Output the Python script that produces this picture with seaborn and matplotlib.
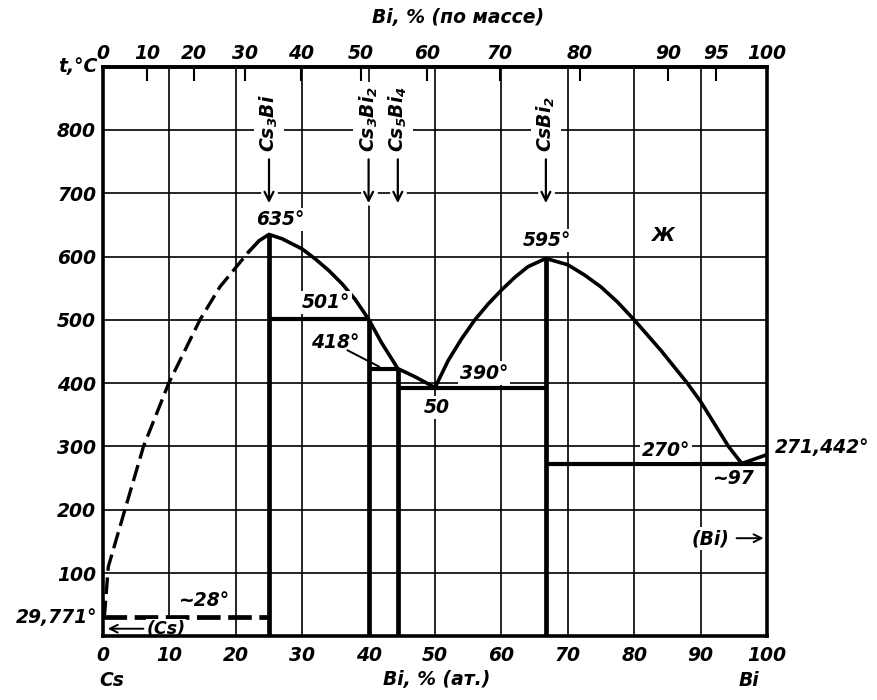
import matplotlib
matplotlib.use("Agg")
import matplotlib.pyplot as plt
import seaborn as sns
import numpy as np

# ---------------- data ----------------
M_BI, M_CS = 208.98, 132.905

y_ticks = [100, 200, 300, 400, 500, 600, 700, 800]
x_ticks_at = [0, 10, 20, 30, 40, 50, 60, 70, 80, 90, 100]
x_ticks_wt = [0, 10, 20, 30, 40, 50, 60, 70, 80, 90, 95, 100]

# liquidus, Cs side (dashed, uncertain)
liq_dash_x = [0.2, 0.8, 3.3, 6.1, 9.9, 14.6, 17.6, 21.9]
liq_dash_t = [30, 110, 200, 300, 400, 500, 552, 607]
# liquidus around Cs3Bi down to the 390 eutectic
liq_a_x = [21.9, 23.5, 25, 27, 30, 32, 34, 36, 38, 40, 42, 44.4, 47, 50]
liq_a_t = [607, 625, 635, 628, 612, 596, 578, 557, 532, 501, 463, 423, 410, 393]
# liquidus around CsBi2
liq_b_x = [50, 52, 54, 56, 58, 60, 62, 64, 66.7, 70, 72.5, 75, 77.5, 80, 84, 88, 90, 94.2, 96.2]
liq_b_t = [393, 436, 470, 500, 525, 547, 567, 584, 597, 587, 571, 552, 528, 500, 452, 400, 371, 300, 273]
# liquidus of Bi
liq_bi_x = [96.2, 100]
liq_bi_t = [273, 287]

# compounds (vertical lines)
comp_x = [25, 40, 44.4, 66.7]
comp_t = [635, 501, 423, 597]
comp_names = ["Cs$_3$Bi", "Cs$_3$Bi$_2$", "Cs$_5$Bi$_4$", "CsBi$_2$"]

# isotherms
iso_x0 = [25, 40, 44.4, 66.7]
iso_x1 = [40, 44.4, 66.7, 100]
iso_t = [501, 423, 393, 273]
cs_iso_x = [0, 25]
cs_iso_t = [30, 30]

# ---------------- figure ----------------
sns.set_theme(style="white")
plt.rcParams["font.family"] = ["DejaVu Sans"]
plt.rcParams["font.style"] = "italic"
plt.rcParams["font.weight"] = "bold"
plt.rcParams["text.color"] = "black"
plt.rcParams["axes.labelcolor"] = "black"
plt.rcParams["xtick.color"] = "black"
plt.rcParams["ytick.color"] = "black"
plt.rcParams["mathtext.fontset"] = "dejavusans"
plt.rcParams["mathtext.default"] = "bf"

FS = 13.5
FW = "bold"
K = "black"
fig = plt.figure(figsize=(8.77, 7.0), dpi=100)
ax = fig.add_axes([103 / 877, (700 - 636.3) / 700, 664 / 877, (636.3 - 66.7) / 700])
ax.set_xlim(0, 100)
ax.set_ylim(0, 900)

# grid drawn explicitly
for xv in x_ticks_at:
    ax.axvline(xv, color=K, lw=1.2, zorder=1)
for yv in y_ticks:
    ax.axhline(yv, color=K, lw=1.2, zorder=1)

ax.set_xticks(x_ticks_at)
ax.set_xticklabels([str(v) for v in x_ticks_at], fontsize=FS, style="italic", weight=FW)
ax.set_yticks(y_ticks)
ax.set_yticklabels([str(v) for v in y_ticks], fontsize=FS, style="italic", weight=FW)
ax.tick_params(axis="both", length=0, colors=K, labelcolor=K)
ax.tick_params(axis="x", pad=7)
ax.tick_params(axis="y", pad=5)
for s in ax.spines.values():
    s.set_color(K)
    s.set_linewidth(2.6)
    s.set_zorder(5)


def at2wt(x):
    x = np.asarray(x, dtype=float)
    return 100 * x * M_BI / (x * M_BI + (100 - x) * M_CS)


def wt2at(w):
    w = np.asarray(w, dtype=float)
    a = w / M_BI
    b = (100 - w) / M_CS
    return 100 * a / (a + b)


sec = ax.secondary_xaxis("top", functions=(at2wt, wt2at))
sec.set_xticks(x_ticks_wt)
sec.set_xticklabels([str(v) for v in x_ticks_wt], fontsize=FS, style="italic", weight=FW)
sec.tick_params(axis="x", direction="in", length=10, width=1.5, pad=3, colors=K,
                labelcolor=K)
sec.spines["top"].set_linewidth(2.6)
sec.spines["top"].set_color(K)

# ---------------- curves ----------------
sns.lineplot(x=liq_dash_x, y=liq_dash_t, ax=ax, color=K, lw=2.4, sort=False,
             estimator=None, linestyle=(0, (5, 2)), zorder=3)
sns.lineplot(x=liq_a_x, y=liq_a_t, ax=ax, color=K, lw=2.6, sort=False, estimator=None, zorder=3)
sns.lineplot(x=liq_b_x, y=liq_b_t, ax=ax, color=K, lw=2.6, sort=False, estimator=None, zorder=3)
sns.lineplot(x=liq_bi_x, y=liq_bi_t, ax=ax, color=K, lw=2.6, sort=False, estimator=None, zorder=3)
sns.lineplot(x=cs_iso_x, y=cs_iso_t, ax=ax, color=K, lw=3.4, sort=False, estimator=None,
             linestyle=(0, (5, 1.6)), zorder=3)

for x0, x1, t in zip(iso_x0, iso_x1, iso_t):
    ax.plot([x0, x1], [t, t], color=K, lw=3.0, solid_capstyle="butt", zorder=3)
for x, t in zip(comp_x, comp_t):
    ax.plot([x, x], [0, t], color=K, lw=3.4, solid_capstyle="butt", zorder=3)

# compound labels with arrows
for x, name in zip(comp_x, comp_names):
    ax.plot([x, x], [682, 760], color="white", lw=12, zorder=1.5, solid_capstyle="butt")
    ax.annotate("", xy=(x, 680), xytext=(x, 758),
                arrowprops=dict(arrowstyle="->", lw=1.6, color=K, mutation_scale=16),
                zorder=4)
    ax.text(x, 765, name, rotation=90, ha="center", va="bottom", fontsize=FS, weight=FW,
            bbox=dict(facecolor="white", edgecolor="none", pad=3), zorder=4)

wb = dict(facecolor="white", edgecolor="none", pad=1.5)
kw = dict(ha="center", va="center", fontsize=FS, weight=FW, zorder=4)
ax.text(26.7, 658, "635°", bbox=wb, **kw)
ax.text(33.6, 528, "501°", bbox=wb, **kw)
ax.text(35.0, 465, "418°", bbox=wb, **kw)
ax.plot([36.8, 41.6], [452, 426], color=K, lw=1.4, zorder=4)
ax.text(57.4, 416, "390°", bbox=wb, **kw)
ax.text(50.3, 361, "50", bbox=wb, **kw)
ax.text(66.9, 626, "595°", bbox=wb, **kw)
ax.text(84.2, 634, "Ж", **kw)
ax.text(84.8, 294, "270°", bbox=wb, **kw)
ax.text(94.8, 250, "~97", bbox=wb, **kw)
ax.text(101.2, 299, "271,442°", ha="left", va="center", fontsize=FS, weight=FW, clip_on=False)
ax.text(91.5, 154, "(Bi)", bbox=wb, **kw)
ax.annotate("", xy=(99.9, 155), xytext=(95.0, 155),
            arrowprops=dict(arrowstyle="->", lw=1.4, color=K, mutation_scale=14), zorder=4)
ax.text(15.1, 57, "~28°", bbox=wb, **kw)
ax.text(9.5, 12, "(Cs)", ha="center", va="center", fontsize=FS - 1, weight=FW,
        bbox=dict(facecolor="white", edgecolor="none", pad=0.5), zorder=4)
ax.annotate("", xy=(0.3, 12), xytext=(6.5, 12),
            arrowprops=dict(arrowstyle="->", lw=1.4, color=K, mutation_scale=14), zorder=4)
ax.text(-0.9, 30, "29,771°", ha="right", va="center", fontsize=FS, weight=FW, clip_on=False)
ax.text(-0.9, 900, "t,°C", ha="right", va="center", fontsize=FS, weight=FW, clip_on=False)

# axis titles
fig.text(458 / 877, 1 - 18 / 700, "Bi, % (по массе)", ha="center", va="center", fontsize=FS, weight=FW)
fig.text(437 / 877, 1 - 680 / 700, "Bi, % (ат.)", ha="center", va="center", fontsize=FS, weight=FW)
fig.text(112 / 877, 1 - 680 / 700, "Cs", ha="center", va="center", fontsize=FS, weight=FW)
fig.text(749 / 877, 1 - 680 / 700, "Bi", ha="center", va="center", fontsize=FS, weight=FW)

fig.savefig("out.png", dpi=100, facecolor="white")
